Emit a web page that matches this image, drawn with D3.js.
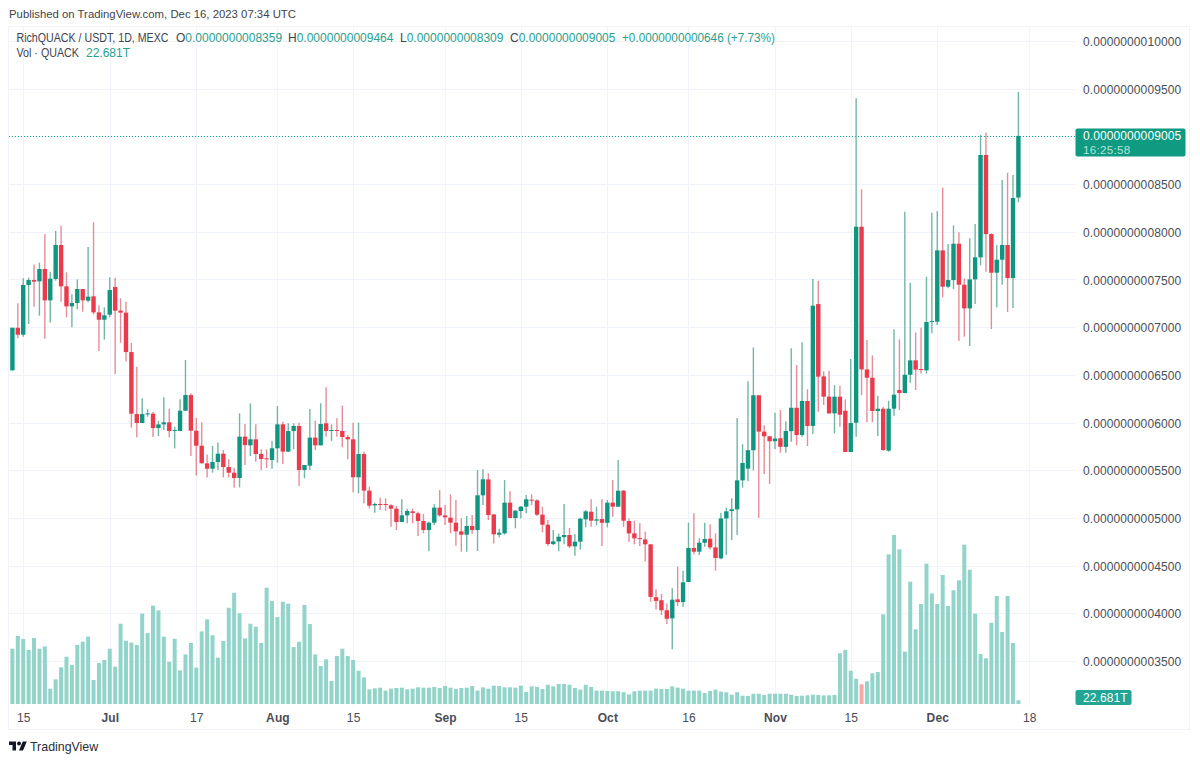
<!DOCTYPE html>
<html>
<head>
<meta charset="utf-8">
<script src="https://cdn.jsdelivr.net/npm/d3@7"></script>
<style>
  html, body { margin: 0; padding: 0; background: #fff; }
  svg { display: block; font-family: "Liberation Sans", sans-serif; }
  .grid line { stroke: #f0f3fa; stroke-width: 1; }
  .axis text { fill: #4a4d55; font-size: 12px; letter-spacing: 0.1px; }
  .axis path, .axis line { display: none; }
</style>
</head>
<body>
<svg id="chart" width="1200" height="762"></svg>
<script>
// ==========================
// DATA (prices in units of 1e-13 USDT, volume in trillions)
// ==========================
const startDate = Date.UTC(2023, 5, 13);

const opens = [
  6547,6994,6921,7442,7494,7480,7610,7281,7505,7861,
  7428,7218,7253,7400,7278,7323,7155,7078,7131,7421,
  7173,7152,6739,6089,5995,6086,6093,5942,5981,6002,
  5914,5911,6124,6288,5914,5757,5572,5516,5586,5673,
  5533,5474,5418,5852,5761,5824,5670,5625,5607,5730,
  5981,5695,5911,5964,5502,5548,5842,5761,5992,5915,
  5922,5911,5848,5824,5426,5670,5286,5132,5146,5146,
  5132,5097,4957,5027,5069,5048,4968,4873,4950,5108,
  5027,5003,4950,4859,4824,4915,4873,5237,5404,5037,
  4824,4838,5160,4999,5072,5118,5191,5184,5034,4929,
  4726,4754,4800,4821,4702,4751,4985,5065,4971,4988,
  4949,5160,5118,5285,4967,4838,4789,4775,4723,4169,
  4137,4032,3947,4146,4118,4328,4685,4646,4740,4782,
  4691,4576,4995,5072,5090,5394,5517,5710,6286,5905,
  5856,5804,5835,5745,5909,6155,5869,6226,5964,7242,
  6484,6271,6096,6271,6124,5691,5998,8053,6557,6470,
  6121,6145,5705,6145,6341,6309,6501,6652,6561,6547,
  7057,7057,7805,7424,7494,7875,7445,7197,7501,7732,
  8805,7976,7571,7707,7861,7515,8359
];
const highs = [
  6994,7250,7512,7519,7658,7676,7973,7582,8008,8064,
  7575,7344,7501,7400,7840,8099,7229,7208,7522,7519,
  7302,7267,6834,6585,6254,6138,6110,6016,6264,6145,
  5956,6243,6655,6306,6051,6002,5666,5754,5792,5712,
  5614,5527,6096,5984,6201,5981,5719,5719,5807,6173,
  6009,5992,5992,5999,5555,6142,6020,6201,6369,5981,
  6044,6177,5869,5999,5999,5695,5328,5160,5212,5205,
  5143,5125,5195,5097,5097,5066,5041,4961,5143,5293,
  5136,5247,5188,4996,5020,5031,5502,5509,5467,5037,
  4887,5397,5279,5083,5125,5240,5247,5195,5118,4978,
  4873,4838,5146,4894,4831,5002,5083,5195,5118,5195,
  5188,5397,5607,5293,4995,4971,4943,4855,4723,4251,
  4202,4104,4262,4489,4447,4950,5048,4786,4950,4933,
  4838,5055,5107,5205,6048,5772,6434,6787,6286,5972,
  5856,6103,6131,6014,6778,6603,6841,6348,7505,7487,
  6537,6544,6393,6386,6243,6666,9399,8445,6865,6704,
  6281,6166,6229,6977,6872,8210,7466,6945,6994,7529,
  8200,8214,8462,7871,8067,7994,7511,7931,8081,9014,
  9042,7983,7861,8542,8619,8595,9464
];
const lows = [
  6547,6883,6900,7033,7215,7120,6879,7050,7487,7267,
  7103,6998,7187,7162,7260,7134,6750,6869,7103,6505,
  6837,6641,5946,5845,5995,6061,5848,5859,5921,5845,
  5729,5911,6124,5649,5446,5572,5425,5474,5502,5425,
  5425,5320,5320,5555,5649,5590,5502,5523,5516,5579,
  5565,5695,5719,5335,5415,5502,5712,5761,5852,5807,
  5852,5740,5614,5268,5258,5153,5101,5055,5083,5076,
  4908,4873,4957,4943,4943,4810,4838,4650,4926,5013,
  4926,4838,4709,4646,4646,4831,4653,5136,4978,4733,
  4796,4824,4999,4891,4995,5048,5135,5020,4849,4705,
  4716,4650,4723,4684,4604,4669,4901,4907,4921,4705,
  4901,5013,5118,4907,4751,4723,4705,4547,4122,4041,
  3982,3888,3622,4076,4069,4328,4618,4611,4698,4670,
  4447,4566,4611,4768,4820,5317,5384,5499,5002,5460,
  5355,5721,5684,5684,5799,5761,5852,5754,5880,6114,
  6184,6089,5887,5957,5691,5691,5851,6288,6002,6002,
  5858,5705,5694,6072,6131,6306,6418,6341,6515,6515,
  6935,7022,7312,7407,7400,6854,6900,6802,7242,7648,
  7581,6980,7207,7445,7158,7200,8309
];
const closes = [
  6994,6921,7442,7494,7477,7610,7281,7508,7861,7428,
  7218,7253,7400,7281,7320,7155,7078,7124,7389,7173,
  7152,6739,6093,5995,6089,6096,5942,5981,6002,5911,
  5921,6124,6288,5914,5757,5572,5516,5586,5673,5533,
  5474,5418,5852,5764,5824,5670,5618,5618,5730,5981,
  5695,5911,5964,5502,5555,5842,5761,5985,5911,5922,
  5915,5848,5824,5426,5670,5286,5129,5146,5139,5139,
  5097,4957,5027,5073,5052,4968,4873,4950,5108,5027,
  5006,4950,4859,4824,4915,4873,5237,5405,5030,4828,
  4845,5160,4999,5076,5118,5195,5184,5034,4929,4726,
  4754,4803,4821,4702,4751,4992,5069,4971,4985,4949,
  5160,5118,5285,4971,4838,4786,4779,4723,4172,4130,
  4032,3943,4143,4118,4325,4685,4646,4740,4779,4691,
  4580,4995,5069,5090,5394,5576,5710,6286,5905,5856,
  5804,5832,5745,5912,6155,5869,6226,5964,7225,6481,
  6271,6096,6271,6082,5691,5995,8053,6557,6470,6121,
  6145,5712,6145,6292,6309,6501,6652,6554,6554,7054,
  7064,7805,7424,7494,7875,7445,7197,7501,7732,8805,
  7976,7571,7707,7861,7515,8354,9005
];
const volumes = [
  339,417,398,331,405,339,353,94,151,225,
  290,239,362,382,413,147,251,270,339,229,
  492,388,376,362,554,435,603,574,413,259,
  400,206,304,374,223,445,519,421,284,386,
  590,682,556,402,492,474,374,713,631,533,
  627,615,349,382,607,490,304,233,274,141,
  294,339,294,270,204,163,90,96,100,82,
  94,98,100,90,94,102,100,100,104,98,
  110,100,92,98,100,110,82,102,94,112,
  110,102,102,100,112,74,108,104,92,118,
  108,123,123,118,98,88,118,104,82,82,
  80,78,78,72,59,78,82,82,82,94,
  92,92,108,100,94,82,82,82,67,80,
  88,76,72,57,72,51,49,63,63,55,
  63,63,63,63,57,49,51,53,57,55,
  53,53,55,311,331,204,155,121,139,188,
  196,550,917,1036,948,321,750,458,613,860,
  678,613,791,601,697,758,977,823,554,306,
  280,498,662,441,662,374,23
];
// the one bar drawn in the falling colour in the reference
const fallingVolumeDays = [157];

const priceTicks = [3500,4000,4500,5000,5500,6000,6500,7000,7500,8000,8500,9000,9500,10000];
const timeTickDates = [
  Date.UTC(2023, 5, 15), Date.UTC(2023, 6, 1), Date.UTC(2023, 6, 17),
  Date.UTC(2023, 7, 1), Date.UTC(2023, 7, 15), Date.UTC(2023, 8, 1),
  Date.UTC(2023, 8, 15), Date.UTC(2023, 9, 1), Date.UTC(2023, 9, 16),
  Date.UTC(2023, 10, 1), Date.UTC(2023, 10, 15), Date.UTC(2023, 11, 1),
  Date.UTC(2023, 11, 18)
];
const timeTickLabels = ["15", "Jul", "17", "Aug", "15", "Sep", "15", "Oct", "16", "Nov", "15", "Dec", "18"];
const monthLabels = ["Jul", "Aug", "Sep", "Oct", "Nov", "Dec"];

// ==========================
// SETUP
// ==========================
const green = "#0f9580", red = "#ea3a4b";
const wickGreen = "#72b5a7", wickRed = "#e58d98";
const day = 86400000;
const dayOf = i => startDate + i * day;

const svg = d3.select("#chart");
const x = d3.scaleUtc().domain([dayOf(0), dayOf(186)]).range([12.4, 1018.4]);
const y = d3.scaleLinear().domain([3500, 10000]).range([661, 41]);
const yVol = d3.scaleLinear().domain([0, 1036]).range([704, 535]);
const priceText = p => (p * 1e-13).toFixed(13);

const plotRight = 1076, plotLeft = 9, plotTop = 27, plotBottom = 730;

// frame
svg.append("rect")
    .attr("x", plotLeft - 0.5).attr("y", plotTop - 0.5)
    .attr("width", 1190 - plotLeft).attr("height", plotBottom - plotTop)
    .attr("fill", "none").attr("stroke", "#f0f3fa");

// grid
const grid = svg.append("g").attr("class", "grid");
grid.selectAll(".h").data(priceTicks).enter().append("line")
    .attr("x1", plotLeft).attr("x2", plotRight)
    .attr("y1", d => Math.round(y(d)) + 0.5).attr("y2", d => Math.round(y(d)) + 0.5);
grid.selectAll(".v").data(timeTickDates).enter().append("line")
    .attr("x1", d => Math.round(x(d)) + 0.5).attr("x2", d => Math.round(x(d)) + 0.5)
    .attr("y1", plotTop).attr("y2", 705);

// volume
const fallingSet = new Set(fallingVolumeDays);
svg.append("g").selectAll("rect").data(volumes).enter().append("rect")
    .attr("x", (d, i) => x(dayOf(i)) - 2)
    .attr("width", 4)
    .attr("y", d => yVol(d))
    .attr("height", d => yVol(0) - yVol(d))
    .attr("fill", (d, i) => fallingSet.has(i) ? "#f5aaa5" : "#92d3ca");

// last price line
svg.append("line")
    .attr("x1", plotLeft).attr("x2", plotRight)
    .attr("y1", Math.round(y(9005)) + 0.5).attr("y2", Math.round(y(9005)) + 0.5)
    .attr("stroke", "#159c85").attr("stroke-dasharray", "1 2");

// candles
const candles = svg.append("g").selectAll("g").data(opens).enter().append("g");
candles.append("line")
    .attr("x1", (d, i) => x(dayOf(i))).attr("x2", (d, i) => x(dayOf(i)))
    .attr("y1", (d, i) => y(highs[i])).attr("y2", (d, i) => y(lows[i]))
    .attr("stroke", (d, i) => closes[i] >= d ? wickGreen : wickRed)
    .attr("stroke-width", 1.4);
candles.append("rect")
    .attr("x", (d, i) => x(dayOf(i)) - 2.2)
    .attr("width", 4.4)
    .attr("y", (d, i) => y(Math.max(d, closes[i])))
    .attr("height", (d, i) => Math.max(1, Math.abs(y(d) - y(closes[i]))))
    .attr("fill", (d, i) => closes[i] >= d ? green : red);

// axes
svg.append("g").attr("class", "axis")
    .attr("transform", "translate(1075,0.7)")
    .call(d3.axisRight(y).tickValues(priceTicks).tickSize(0).tickPadding(8).tickFormat(priceText));

const timeAxis = svg.append("g").attr("class", "axis")
    .attr("transform", "translate(0,711.5)")
    .call(d3.axisBottom(x).tickValues(timeTickDates).tickSize(0).tickPadding(2)
        .tickFormat((d, i) => timeTickLabels[i]));
timeAxis.selectAll("text")
    .attr("font-weight", (d, i) => monthLabels.includes(timeTickLabels[i]) ? "bold" : "normal");

// header + legend
const textDark = "#3f434c", textTeal = "#2ba08c";
const legendOhlc = [
  ["O", "0.0000000008359", 176],
  ["H", "0.0000000009464", 288],
  ["L", "0.0000000008309", 400],
  ["C", "0.0000000009005", 510]
];

svg.append("text").attr("x", 9).attr("y", 18)
    .attr("font-size", 11.6).attr("fill", textDark)
    .attr("textLength", 287).attr("lengthAdjust", "spacingAndGlyphs")
    .text("Published on TradingView.com, Dec 16, 2023 07:34 UTC");

svg.append("text").attr("x", 16.5).attr("y", 42).attr("font-size", 12).attr("fill", textDark)
    .attr("textLength", 152).attr("lengthAdjust", "spacingAndGlyphs")
    .text("RichQUACK / USDT, 1D, MEXC");

const ohlc = svg.append("g").selectAll("text").data(legendOhlc).enter().append("text")
    .attr("x", d => d[2]).attr("y", 42).attr("font-size", 12).attr("fill", textDark);
ohlc.append("tspan").text(d => d[0]);
ohlc.append("tspan").attr("fill", textTeal).text(d => d[1]);

svg.append("text").attr("x", 622).attr("y", 42).attr("font-size", 12).attr("fill", textTeal)
    .attr("textLength", 153).attr("lengthAdjust", "spacingAndGlyphs")
    .text("+0.0000000000646 (+7.73%)");

svg.append("text").attr("x", 16.5).attr("y", 57).attr("font-size", 12).attr("fill", textDark)
    .attr("textLength", 62.5).attr("lengthAdjust", "spacingAndGlyphs").text("Vol · QUACK");
svg.append("text").attr("x", 86).attr("y", 57).attr("font-size", 12).attr("fill", textTeal).text("22.681T");

// last price tag
svg.append("rect").attr("x", 1075.5).attr("y", 128.5).attr("width", 110).attr("height", 28)
    .attr("rx", 2).attr("fill", "#0f9a82");
svg.append("text").attr("x", 1083).attr("y", 139.5).attr("font-size", 12).attr("fill", "#fff")
    .attr("letter-spacing", 0.1).text(priceText(9005));
svg.append("text").attr("x", 1083).attr("y", 153.5).attr("font-size", 11.6).attr("fill", "#b5e3da")
    .attr("letter-spacing", 0.3).text("16:25:58");

// volume tag
svg.append("rect").attr("x", 1075.5).attr("y", 690).attr("width", 56).attr("height", 15)
    .attr("rx", 2).attr("fill", "#22a595");
svg.append("text").attr("x", 1083).attr("y", 702).attr("font-size", 12).attr("fill", "#fff")
    .attr("letter-spacing", 0.1).text("22.681T");

// TradingView logo
const logo = svg.append("g").attr("transform", "translate(9,738) scale(0.5)").attr("fill", "#131722");
logo.append("path").attr("d", "M14 25H7V14H0V7h14v18z");
logo.append("path").attr("d", "M28 25h-8l7.5-18h8L28 25z");
logo.append("circle").attr("cx", 20).attr("cy", 11).attr("r", 4);
svg.append("text").attr("x", 30).attr("y", 751).attr("font-size", 12.4).attr("fill", "#2a2e39").text("TradingView");
</script>
</body>
</html>
